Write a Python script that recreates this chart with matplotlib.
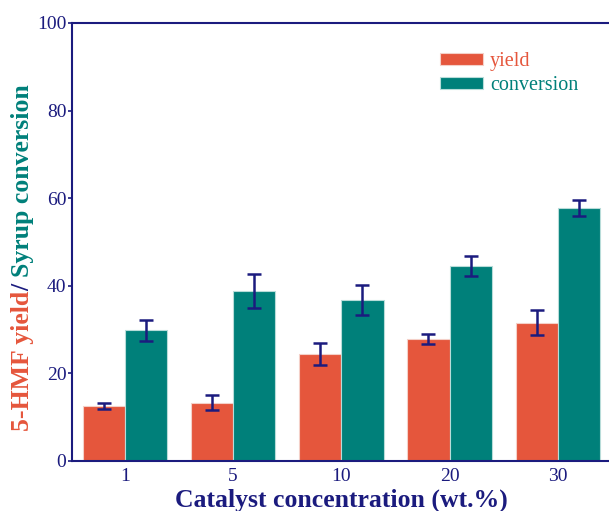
import numpy as np
import matplotlib
matplotlib.use("Agg")
import matplotlib.pyplot as plt

# catalyst loading vs 5-HMF yield / syrup conversion
concentration = ["1", "5", "10", "20", "30"]
yield_mean = [12.5, 13.3, 24.5, 27.8, 31.6]
yield_err = [0.7, 1.7, 2.5, 1.2, 2.9]
conv_mean = [29.8, 38.8, 36.8, 44.6, 57.8]
conv_err = [2.4, 3.8, 3.4, 2.3, 1.8]

c_yield = "#E5563C"
c_conv = "#00807A"
navy = "#1B1B7E"

plt.rcParams["font.family"] = ["Liberation Serif", "DejaVu Serif"]

fig = plt.figure(figsize=(6.09, 5.11), dpi=100)
ax = fig.add_axes([0.118, 0.098, 0.885, 0.857])

x = np.arange(len(concentration))
w = 0.39
ekw = dict(ecolor=navy, elinewidth=1.8, capsize=5, capthick=1.8)
ax.bar(x - w / 2, yield_mean, w, color=c_yield, edgecolor="#f4d0c8",
       linewidth=0.8, yerr=yield_err, error_kw=ekw, label="yield")
ax.bar(x + w / 2, conv_mean, w, color=c_conv, edgecolor="#b8dcd9",
       linewidth=0.8, yerr=conv_err, error_kw=ekw, label="conversion")

ax.set_xlim(-0.49, 4.49)
ax.set_ylim(0, 100)
ax.set_xticks(x)
ax.set_xticklabels(concentration)
ax.set_yticks([0, 20, 40, 60, 80, 100])

for s in ["left", "bottom", "top"]:
    ax.spines[s].set_color(navy)
    ax.spines[s].set_linewidth(1.5)
ax.spines["right"].set_visible(False)
ax.tick_params(axis="y", colors=navy, labelsize=14, length=3, width=1.2, pad=1)
ax.tick_params(axis="x", colors=navy, labelsize=14, length=0, pad=5)

ax.set_xlabel("Catalyst concentration (wt.%)", fontsize=18.5, fontweight="bold",
              color=navy, labelpad=3)

leg = ax.legend(loc="upper left", bbox_to_anchor=(0.649, 0.975), frameon=False,
                fontsize=14.5, handlelength=2.14, handleheight=0.6,
                handletextpad=0.35, labelspacing=0.25)
for t, c in zip(leg.get_texts(), [c_yield, c_conv]):
    t.set_color(c)

# y label in three colours, stacked bottom to top
parts = [("5-HMF yield", c_yield), ("/ ", navy), ("Syrup conversion", c_conv)]
fig.canvas.draw()
r = fig.canvas.get_renderer()
total = 0
texts = []
for s, c in parts:
    t = fig.text(0, 0, s, rotation=90, fontsize=18.5, fontweight="bold", color=c,
                 ha="center", va="bottom", transform=None)
    h = t.get_window_extent(r).height
    texts.append((t, h))
    total += h
y0 = (511 - 258) - total / 2
for t, h in texts:
    t.set_position((23, y0))
    y0 += h

fig.savefig("out.png", dpi=100)
